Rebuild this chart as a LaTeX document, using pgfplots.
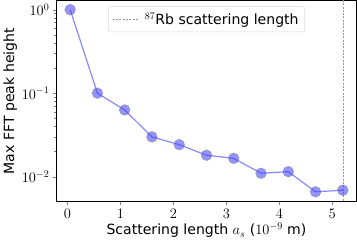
\documentclass[border=0pt]{standalone}
\usepackage{fontspec}
\setmainfont{DejaVu Sans}
\usepackage{pgfplots}
\pgfplotsset{compat=1.18}
\definecolor{ptblue}{RGB}{60,60,255}
\begin{document}
\begin{tikzpicture}
\begin{axis}[
  scale only axis,
  width=298bp, height=200bp,
  xmin=-0.21, xmax=5.46,
  ymode=log, ymin=0.005, ymax=1.29,
  xtick={0,1,2,3,4,5},
  ytick={0.01,0.1,1},
  tick align=outside, tick pos=left,
  major tick length=3.5bp, minor tick length=2bp,
  axis line style={line width=0.8pt},
  xlabel={Scattering length $a_s$ ($10^{-9}$ m)},
  ylabel={Max FFT peak height},
  label style={font=\fontsize{14}{16}\selectfont},
  xlabel style={yshift=2pt},
  ylabel style={yshift=-2pt},
  tick label style={font=\fontsize{14}{16}\selectfont},
  legend style={at={(0.5,0.97)}, anchor=north, draw=black!15, rounded corners=2pt,
    font=\fontsize{14}{16}\selectfont, inner xsep=4pt, inner ysep=4pt},
  legend image post style={xscale=1.45},
  legend cell align=left,
]
\addplot[ptblue, opacity=0.6, line width=1.2pt, mark=*, mark size=5.3pt,
  mark options={solid, fill=ptblue, draw=gray, fill opacity=0.55, draw opacity=0.5, line width=0.8pt},
  forget plot] coordinates {
  (0.05,1.0) (0.565,0.100) (1.08,0.063) (1.595,0.030) (2.11,0.0242)
  (2.625,0.0181) (3.14,0.0166) (3.655,0.0110) (4.17,0.0115) (4.685,0.0066) (5.2,0.0069)
};
\addplot[gray!80, dash pattern=on 2pt off 1.3pt, line width=0.6pt] coordinates {(5.2,0.001) (5.2,10)};
\addlegendentry{\hspace{5pt}$^{87}$Rb scattering length}
\end{axis}
\end{tikzpicture}
\end{document}
